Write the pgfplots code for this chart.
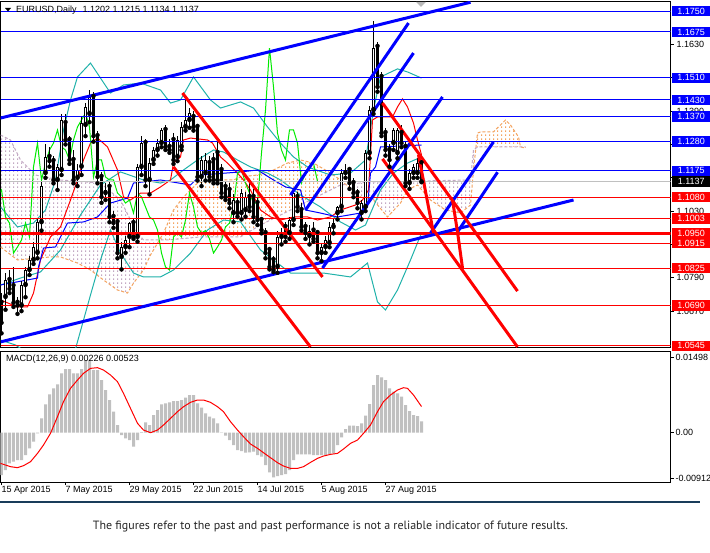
\documentclass[border=0pt]{standalone}
\usepackage{graphicx}
\usepackage{pgfplots}
\pgfplotsset{compat=1.18}
\usepackage{pgfplotstable}
\usetikzlibrary{patterns}
\usepackage{fontspec}
\setmainfont{Liberation Sans}
\newfontfamily\ptsans{PT Sans}
\definecolor{mtblue}{RGB}{0,0,255}
\definecolor{mtred}{RGB}{255,0,0}
\definecolor{bbcyan}{RGB}{32,178,170}
\definecolor{chik}{RGB}{0,235,0}
\definecolor{sanda}{RGB}{244,164,96}
\definecolor{thist}{RGB}{195,168,195}
\definecolor{silv}{RGB}{192,192,192}
\definecolor{darkbar}{RGB}{25,60,90}
\pgfdeclarepatternformonly{vdash}{\pgfqpoint{0pt}{0pt}}{\pgfqpoint{4pt}{4pt}}{\pgfqpoint{4pt}{4pt}}{%
  \pgfpathrectangle{\pgfqpoint{1.5pt}{0pt}}{\pgfqpoint{1pt}{2pt}}\pgfusepath{fill}}
\newcommand\lab{\fontsize{9}{10.5}\selectfont}

\pgfplotstableread{
i O H L C
0 1.0700 1.0735 1.0590 1.0628
1 1.0721 1.0808 1.0675 1.0782
2 1.0782 1.0818 1.0735 1.0750
3 1.0760 1.0829 1.0685 1.0700
4 1.0700 1.0720 1.0660 1.0690
5 1.0690 1.0780 1.0670 1.0764
6 1.0764 1.0830 1.0720 1.0818
7 1.0818 1.0870 1.0800 1.0854
8 1.0854 1.0920 1.0840 1.0900
9 1.0880 1.1000 1.0860 1.0990
10 1.0990 1.1140 1.0960 1.1120
11 1.1167 1.1270 1.1150 1.1225
12 1.1225 1.1260 1.1190 1.1210
13 1.1210 1.1230 1.1130 1.1142
14 1.1142 1.1200 1.1106 1.1189
15 1.1178 1.1380 1.1160 1.1358
16 1.1347 1.1380 1.1270 1.1286
17 1.1286 1.1300 1.1200 1.1214
18 1.1214 1.1250 1.1130 1.1142
19 1.1150 1.1200 1.1120 1.1178
20 1.1190 1.1370 1.1160 1.1347
21 1.1340 1.1420 1.1300 1.1405
22 1.1380 1.1466 1.1350 1.1441
23 1.1441 1.1460 1.1280 1.1300
24 1.1300 1.1320 1.1130 1.1153
25 1.1153 1.1170 1.1060 1.1081
26 1.1095 1.1130 1.1070 1.1106
27 1.1117 1.1140 1.0990 1.1009
28 1.1009 1.1030 1.0970 1.0987
29 1.0990 1.1000 1.0860 1.0879
30 1.0865 1.0920 1.0820 1.0901
31 1.0901 1.0940 1.0880 1.0926
32 1.0937 1.0990 1.0900 1.0987
33 1.0987 1.1000 1.0930 1.0937
34 1.0937 1.1200 1.0920 1.1189
35 1.1189 1.1300 1.1160 1.1275
36 1.1275 1.1290 1.1120 1.1142
37 1.1142 1.1220 1.1090 1.1203
38 1.1214 1.1260 1.1200 1.1250
39 1.1250 1.1290 1.1230 1.1275
40 1.1275 1.1330 1.1260 1.1322
41 1.1322 1.1340 1.1250 1.1261
42 1.1261 1.1290 1.1240 1.1250
43 1.1286 1.1310 1.1200 1.1214
44 1.1225 1.1300 1.1210 1.1286
45 1.1261 1.1350 1.1250 1.1333
46 1.1333 1.1430 1.1320 1.1358
47 1.1358 1.1400 1.1330 1.1383
48 1.1369 1.1390 1.1320 1.1333
49 1.1333 1.1340 1.1140 1.1153
50 1.1153 1.1230 1.1120 1.1214
51 1.1167 1.1240 1.1140 1.1214
52 1.1203 1.1230 1.1140 1.1153
53 1.1214 1.1240 1.1130 1.1142
54 1.1239 1.1280 1.1130 1.1142
55 1.1178 1.1200 1.1080 1.1095
56 1.1117 1.1140 1.1070 1.1081
57 1.1106 1.1130 1.1040 1.1059
58 1.1023 1.1090 1.0990 1.1070
59 1.1059 1.1080 1.1010 1.1023
60 1.1023 1.1110 1.1000 1.1095
61 1.1034 1.1100 1.1010 1.1081
62 1.1081 1.1130 1.1030 1.1045
63 1.1081 1.1110 1.0990 1.1009
64 1.1059 1.1080 1.0980 1.0998
65 1.0998 1.1010 1.0950 1.0962
66 1.0951 1.0970 1.0860 1.0879
67 1.0890 1.0900 1.0820 1.0829
68 1.0854 1.0870 1.0810 1.0818
69 1.0829 1.0960 1.0808 1.0937
70 1.0937 1.0970 1.0910 1.0951
71 1.0973 1.0990 1.0920 1.0937
72 1.0951 1.1010 1.0930 1.0998
73 1.0998 1.1110 1.0980 1.1095
74 1.1081 1.1100 1.1030 1.1045
75 1.1034 1.1060 1.0960 1.0973
76 1.0973 1.0990 1.0930 1.0951
77 1.0940 1.0980 1.0910 1.0960
78 1.0960 1.0990 1.0920 1.0930
79 1.0951 1.0960 1.0860 1.0879
80 1.0879 1.0910 1.0850 1.0901
81 1.0901 1.0940 1.0880 1.0926
82 1.0915 1.0990 1.0900 1.0973
83 1.0973 1.1000 1.0950 1.0987
84 1.1023 1.1050 1.1000 1.1045
85 1.1045 1.1180 1.1030 1.1167
86 1.1167 1.1200 1.1150 1.1178
87 1.1178 1.1190 1.1110 1.1131
88 1.1131 1.1150 1.1080 1.1095
89 1.1095 1.1110 1.1040 1.1059
90 1.1023 1.1070 1.1000 1.1059
91 1.1045 1.1250 1.1030 1.1239
92 1.1239 1.1410 1.1220 1.1394
93 1.1394 1.1715 1.1380 1.1617
94 1.1621 1.1640 1.1460 1.1477
95 1.1513 1.1530 1.1300 1.1311
96 1.1311 1.1330 1.1230 1.1250
97 1.1250 1.1270 1.1190 1.1214
98 1.1275 1.1330 1.1250 1.1322
99 1.1239 1.1330 1.1220 1.1322
100 1.1311 1.1340 1.1260 1.1275
101 1.1261 1.1280 1.1120 1.1131
102 1.1131 1.1180 1.1110 1.1167
103 1.1167 1.1200 1.1150 1.1189
104 1.1167 1.1220 1.1150 1.1203
105 1.1202 1.1215 1.1134 1.1137
}\candles

\pgfplotstableread{
i m
0 -0.00846
1 -0.00746
2 -0.00613
3 -0.00579
4 -0.00546
5 -0.00546
6 -0.00446
7 -0.00313
8 -0.00180
9 -0.00013
10 0.00286
11 0.00566
12 0.00766
13 0.00886
14 0.00966
15 0.01185
16 0.01272
17 0.01272
18 0.01185
19 0.01185
20 0.01272
21 0.01452
22 0.01452
23 0.01252
24 0.01252
25 0.01052
26 0.00852
27 0.00653
28 0.00420
29 0.00153
30 -0.00047
31 -0.00113
32 -0.00147
33 -0.00280
34 -0.00147
35 0.00010
36 0.00206
37 0.00153
38 0.00353
39 0.00453
40 0.00566
41 0.00586
42 0.00606
43 0.00633
44 0.00633
45 0.00653
46 0.00699
47 0.00753
48 0.00753
49 0.00586
50 0.00500
51 0.00386
52 0.00320
53 0.00286
54 0.00186
55 0.00007
56 -0.00060
57 -0.00147
58 -0.00246
59 -0.00346
60 -0.00366
61 -0.00400
62 -0.00393
63 -0.00380
64 -0.00446
65 -0.00480
66 -0.00646
67 -0.00793
68 -0.00892
69 -0.00866
70 -0.00846
71 -0.00826
72 -0.00746
73 -0.00546
74 -0.00433
75 -0.00433
76 -0.00433
77 -0.00433
78 -0.00446
79 -0.00446
80 -0.00446
81 -0.00446
82 -0.00433
83 -0.00413
84 -0.00246
85 -0.00093
86 0.00073
87 0.00140
88 0.00140
89 0.00133
90 0.00186
91 0.00340
92 0.00573
93 0.00952
94 0.01152
95 0.01106
96 0.01052
97 0.00886
98 0.00819
99 0.00786
100 0.00719
101 0.00553
102 0.00433
103 0.00353
104 0.00333
105 0.00226
}\macd

\begin{document}
\begin{tikzpicture}[x=1pt,y=1pt]
\useasboundingbox (0,0) rectangle (710,552);
\fill[white] (0,0) rectangle (710,552);

% ---------------- main price panel ----------------
\begin{axis}[
  at={(0.5pt,204pt)}, anchor=south west,
  width=670pt, height=346pt, scale only axis,
  xmin=0, xmax=670, ymin=1.05372, ymax=1.17828,
  axis line style={black, line width=1pt},
  xtick=\empty,
  scaled y ticks=false,
  ytick={1.067,1.079,1.091,1.103,1.115,1.127,1.139,1.151,1.163},
  yticklabels={1.0670,1.0790,,1.1030,,,1.1390,,1.1630},
  ytick pos=right, yticklabel pos=right,
  tick align=outside, major tick length=3pt,
  tick style={black, line width=0.8pt},
  yticklabel style={font=\lab, anchor=west, inner sep=0pt, xshift=3pt},
]
% Ichimoku cloud hatching (regions between Senkou A and Senkou B)
\addplot[draw=none, pattern=vdash, pattern color=thist] coordinates {
(0,1.0901) (17,1.0854) (50,1.0865) (60,1.0865) (77,1.0843) (90,1.0818) (103,1.0782) (117,1.0746) (127,1.0735) (133,1.0771) (143,1.0818) (150,1.0872) (158,1.0924)
(143,1.0926) (135,1.0962) (120,1.1070) (100,1.1131) (60,1.1142) (35,1.1160) (20,1.1214) (10,1.1286) (0,1.1304)};
\addplot[draw=none, pattern=vdash, pattern color=sanda] coordinates {
(158,1.0924) (163,1.0951) (173,1.1034) (183,1.1081) (197,1.1131) (213,1.1142) (233,1.1142) (240,1.1153) (257,1.1160) (273,1.1178) (287,1.1203) (300,1.1214) (313,1.1203) (330,1.1167) (340,1.1142) (345,1.1126)
(340,1.1124) (320,1.1088) (300,1.1052) (260,1.0980) (240,1.0937) (200,1.0937) (167,1.0926)};
\addplot[draw=none, pattern=vdash, pattern color=thist] coordinates {
(345,1.1126) (360,1.1081) (373,1.1070) (387,1.1009) (400,1.1059) (407,1.1106) (417,1.1124) (430,1.1070) (445,1.1034) (460,1.1023) (470,1.1052) (473,1.1178) (475,1.1250)
(473,1.1250) (470,1.1142) (370,1.1135)};
\addplot[draw=none, pattern=vdash, pattern color=sanda] coordinates {
(475,1.1250) (477,1.1311) (480,1.1315) (493,1.1315) (498,1.1333) (505,1.1358) (510,1.1340) (518,1.1297) (520,1.1261) (525,1.1257)
(525,1.1261) (477,1.1261)};
% Senkou A / B
\addplot[sanda, line width=1pt, dash pattern=on 3pt off 2pt] coordinates {
(0,1.0901) (17,1.0854) (50,1.0865) (60,1.0865) (77,1.0843) (90,1.0818) (103,1.0782) (117,1.0746) (127,1.0735) (133,1.0771) (143,1.0818) (150,1.0872) (163,1.0951) (173,1.1034) (183,1.1081) (197,1.1131) (213,1.1142) (233,1.1142) (240,1.1153) (257,1.1160) (273,1.1178) (287,1.1203) (300,1.1214) (313,1.1203) (330,1.1167) (340,1.1142) (360,1.1081) (373,1.1070) (387,1.1009) (400,1.1059) (407,1.1106) (417,1.1124) (430,1.1070) (445,1.1034) (460,1.1023) (470,1.1052) (473,1.1178) (477,1.1311) (480,1.1315) (493,1.1315) (498,1.1333) (505,1.1358) (510,1.1340) (518,1.1297) (520,1.1261) (525,1.1257)};
\addplot[thist, line width=1pt, dash pattern=on 3pt off 2pt] coordinates {
(0,1.1304) (10,1.1286) (20,1.1214) (35,1.1160) (60,1.1142) (100,1.1131) (120,1.1070) (135,1.0962) (143,1.0926) (167,1.0926) (200,1.0937) (240,1.0937) (260,1.0980) (300,1.1052) (320,1.1088) (340,1.1124) (370,1.1135) (470,1.1142) (473,1.1250) (477,1.1261) (525,1.1261)};

% Bollinger bands
\addplot[bbcyan, line width=1pt] coordinates {
(0,1.1045) (17,1.0973) (33,1.0987) (45,1.1034) (55,1.1142) (63,1.1322) (70,1.1430) (77,1.1513) (90,1.1563) (100,1.1509) (110,1.1455) (123,1.1484) (140,1.1491) (160,1.1466) (170,1.1419) (180,1.1430) (193,1.1513) (210,1.1430) (220,1.1401) (240,1.1423) (253,1.1401) (267,1.1333) (280,1.1275) (293,1.1225) (307,1.1189) (330,1.1160) (350,1.1167) (365,1.1214) (373,1.1394) (380,1.1513) (397,1.1542) (407,1.1531) (421,1.1509)};
\addplot[bbcyan, line width=1pt] coordinates {
(0,1.0764) (20,1.0789) (40,1.0811) (60,1.0890) (80,1.1016) (100,1.1124) (120,1.1171) (143,1.1142) (160,1.1131) (170,1.1142) (183,1.1178) (197,1.1214) (213,1.1250) (223,1.1243) (237,1.1214) (250,1.1189) (267,1.1167) (280,1.1142) (300,1.1088) (320,1.1045) (340,1.0991) (355,1.0962) (365,1.0980) (380,1.1106) (393,1.1167) (407,1.1203) (421,1.1225)};
\addplot[bbcyan, line width=1pt] coordinates {
(0,1.0566) (15,1.0548) (30,1.0512) (45,1.0458) (60,1.0458) (70,1.0512) (75,1.0534) (90,1.0728) (100,1.0854) (110,1.0962) (120,1.0879) (133,1.0807) (143,1.0793) (160,1.0793) (173,1.0818) (190,1.0879) (207,1.0962) (223,1.0998) (240,1.0991) (260,1.0890) (290,1.0807) (323,1.0807) (350,1.0793) (367,1.0843) (377,1.0703) (385,1.0674) (397,1.0746) (410,1.0854) (421,1.0951)};

% Tenkan / Kijun
\addplot[mtred, line width=1pt] coordinates {
(0,1.0710) (17,1.0685) (27,1.0685) (33,1.0735) (40,1.0854) (50,1.0937) (60,1.0973) (70,1.1070) (77,1.1142) (83,1.1214) (90,1.1275) (97,1.1293) (107,1.1261) (117,1.1178) (123,1.1081) (130,1.1070) (140,1.1095) (150,1.1095) (160,1.1117) (170,1.1142) (173,1.1203) (180,1.1225) (183,1.1286) (190,1.1293) (207,1.1286) (212,1.1275) (220,1.1225) (227,1.1203) (237,1.1167) (243,1.1142) (250,1.1106) (260,1.1034) (270,1.1009) (280,1.0998) (293,1.1009) (307,1.1009) (317,1.0998) (330,1.1009) (340,1.1034) (355,1.1052) (362,1.1070) (368,1.1106) (372,1.1358) (377,1.1369) (392,1.1369) (397,1.1405) (402,1.1434) (407,1.1405) (413,1.1347) (417,1.1286) (421,1.1232)};
\addplot[mtblue, line width=1pt] coordinates {
(0,1.0764) (37,1.0789) (38,1.0829) (43,1.0897) (55,1.0901) (60,1.0937) (67,1.0987) (83,1.0991) (97,1.1009) (110,1.1059) (127,1.1077) (133,1.1131) (160,1.1142) (190,1.1124) (200,1.1160) (240,1.1171) (257,1.1178) (273,1.1142) (285,1.1117) (300,1.1106) (305,1.1034) (320,1.1023) (337,1.1009) (360,1.1023) (367,1.1045) (370,1.1167) (375,1.1189) (380,1.1261) (421,1.1268)};
% Chikou span (closes shifted 26 bars back)
\addplot[chik, line width=1pt] table[x expr=4*\thisrow{i}-103, y=C] {\candles};

% Candles: wicks, bodies, hollow bullish bodies
\addplot[only marks, mark=none, error bars/.cd, y dir=plus, y explicit, error mark=none,
  error bar style={black, line width=1pt}]
  table[x expr=1+4*\thisrow{i}, y=L, y error plus expr={\thisrow{H}-\thisrow{L}}] {\candles};
\addplot[only marks, mark=none, error bars/.cd, y dir=plus, y explicit, error mark=none,
  error bar style={black, line width=3pt}]
  table[x expr=1+4*\thisrow{i}, y expr={min(\thisrow{O},\thisrow{C})},
        y error plus expr={max(abs(\thisrow{C}-\thisrow{O}),0.0003)}] {\candles};
\addplot[only marks, mark=none, error bars/.cd, y dir=plus, y explicit, error mark=none,
  error bar style={white, line width=1pt}]
  table[x expr=1+4*\thisrow{i}, y expr={\thisrow{O}+0.00036},
        y error plus expr={max(\thisrow{C}-\thisrow{O}-0.00072,0)}] {\candles};

% Horizontal levels
\addplot[mtblue, line width=1pt] coordinates {(0,1.1750) (670,1.1750)};
\addplot[mtblue, line width=1pt] coordinates {(0,1.1675) (670,1.1675)};
\addplot[mtblue, line width=1pt] coordinates {(0,1.1510) (670,1.1510)};
\addplot[mtblue, line width=1pt] coordinates {(0,1.1430) (670,1.1430)};
\addplot[mtblue, line width=1pt] coordinates {(0,1.1370) (670,1.1370)};
\addplot[mtblue, line width=1pt] coordinates {(0,1.1280) (670,1.1280)};
\addplot[mtblue, line width=1pt] coordinates {(0,1.1175) (670,1.1175)};
\addplot[silv, line width=1pt] coordinates {(0,1.1137) (670,1.1137)};
\addplot[mtred, line width=1pt] coordinates {(0,1.1080) (670,1.1080)};
\addplot[mtred, line width=1pt] coordinates {(0,1.1003) (670,1.1003)};
\addplot[mtred, line width=3pt] coordinates {(0,1.0950) (670,1.0950)};
\addplot[mtred, line width=1pt] coordinates {(0,1.0915) (670,1.0915)};
\addplot[mtred, line width=1pt] coordinates {(0,1.0825) (670,1.0825)};
\addplot[mtred, line width=1pt] coordinates {(0,1.0690) (670,1.0690)};
\addplot[mtred, line width=1pt] coordinates {(0,1.0545) (670,1.0545)};

% Trend lines
\addplot[mtblue, line width=3pt] coordinates {(0,1.1365) (470,1.1782)};
\addplot[mtblue, line width=3pt] coordinates {(0,1.0559) (573,1.1070)};
\addplot[mtblue, line width=3pt] coordinates {(290,1.1088) (408,1.1707)};
\addplot[mtblue, line width=3pt] coordinates {(305,1.1034) (413,1.1599)};
\addplot[mtblue, line width=3pt] coordinates {(322,1.0825) (442,1.1441)};
\addplot[mtblue, line width=3pt] coordinates {(430,1.0951) (493,1.1279)};
\addplot[mtblue, line width=3pt] coordinates {(457,1.0955) (497,1.1170)};
\addplot[mtred, line width=3pt] coordinates {(182,1.1455) (322,1.0793)};
\addplot[mtred, line width=3pt] coordinates {(173,1.1189) (310,1.0541)};
\addplot[mtred, line width=3pt] coordinates {(382,1.1419) (517,1.0742)};
\addplot[mtred, line width=3pt] coordinates {(382,1.1218) (517,1.0541)};
\addplot[mtred, line width=3pt] coordinates {(418,1.1232) (433,1.0951)};
\addplot[mtred, line width=3pt] coordinates {(452,1.1070) (457,1.0955) (462,1.0825)};

\coordinate (L1) at (axis cs:670,1.1750);
\coordinate (L2) at (axis cs:670,1.1675);
\coordinate (L3) at (axis cs:670,1.1510);
\coordinate (L4) at (axis cs:670,1.1430);
\coordinate (L5) at (axis cs:670,1.1370);
\coordinate (L6) at (axis cs:670,1.1280);
\coordinate (L7) at (axis cs:670,1.1175);
\coordinate (L8) at (axis cs:670,1.1137);
\coordinate (L9) at (axis cs:670,1.1080);
\coordinate (L10) at (axis cs:670,1.1003);
\coordinate (L11) at (axis cs:670,1.0950);
\coordinate (L12) at (axis cs:670,1.0915);
\coordinate (L13) at (axis cs:670,1.0825);
\coordinate (L14) at (axis cs:670,1.0690);
\coordinate (L15) at (axis cs:670,1.0545);
\end{axis}

% ---------------- MACD panel ----------------
\begin{axis}[
  at={(0.5pt,70pt)}, anchor=south west,
  width=670pt, height=131pt, scale only axis,
  xmin=0, xmax=670, ymin=-0.00985, ymax=0.01632,
  axis line style={black, line width=1pt},
  scaled y ticks=false,
  xtick={1,65,129,193,257,321,385},
  xticklabels={15 Apr 2015,7 May 2015,29 May 2015,22 Jun 2015,14 Jul 2015,5 Aug 2015,27 Aug 2015},
  xtick pos=left,
  ytick={-0.00912,0,0.01498},
  yticklabels={-0.00912,0.00,0.01498},
  ytick pos=right, yticklabel pos=right,
  tick align=outside, major tick length=3pt,
  tick style={black, line width=0.8pt},
  xticklabel style={font=\lab, anchor=north west, inner sep=0pt, xshift=0pt, yshift=-1pt},
  yticklabel style={font=\lab, anchor=west, inner sep=0pt, xshift=2pt},
]
\addplot[ybar, bar width=3pt, fill=silv, draw=none] table[x expr=1+4*\thisrow{i}, y=m] {\macd};
\addplot[mtred, line width=1pt] coordinates {
(0,-0.00613) (5,-0.00646) (10,-0.00679) (17,-0.00699) (23,-0.00659) (30,-0.00580) (37,-0.00413) (43,-0.00246) (50,-0.00013) (57,0.00320) (63,0.00620) (70,0.00886) (77,0.01052) (83,0.01186) (90,0.01285) (97,0.01299) (103,0.01252) (110,0.01152) (117,0.01019) (123,0.00786) (130,0.00486) (137,0.00187) (143,0.00053) (150,0.00000) (157,0.00053) (163,0.00153) (170,0.00286) (177,0.00420) (183,0.00519) (190,0.00606) (197,0.00653) (203,0.00653) (210,0.00606) (217,0.00519) (223,0.00420) (230,0.00220) (237,0.00053) (243,-0.00080) (250,-0.00226) (257,-0.00313) (263,-0.00400) (270,-0.00500) (277,-0.00599) (283,-0.00666) (290,-0.00713) (297,-0.00713) (303,-0.00679) (310,-0.00593) (317,-0.00513) (323,-0.00466) (330,-0.00433) (337,-0.00413) (343,-0.00326) (350,-0.00213) (357,-0.00147) (363,-0.00013) (370,0.00153) (377,0.00420) (383,0.00620) (390,0.00753) (397,0.00853) (403,0.00899) (407,0.00886) (413,0.00753) (421,0.00523)};
\end{axis}

% ---------------- price label boxes ----------------
\foreach \n/\v/\c in {L1/1.1750/mtblue,L2/1.1675/mtblue,L3/1.1510/mtblue,L4/1.1430/mtblue,L5/1.1370/mtblue,L6/1.1280/mtblue,L7/1.1175/mtblue,L8/1.1137/black,L9/1.1080/mtred,L10/1.1003/mtred,L11/1.0950/mtred,L12/1.0915/mtred,L13/1.0825/mtred,L14/1.0690/mtred,L15/1.0545/mtred}{
  \node[fill=\c, text=white, font=\lab, inner sep=0pt, minimum width=38pt, minimum height=10.5pt, anchor=west] at ([xshift=1.5pt]\n) {\v};
}

% titles
\fill[black] (5,544) -- (11,544) -- (8,540.5) -- cycle;
\node[anchor=base west, inner sep=0pt, font=\lab] at (16,539.5) {EURUSD,Daily\hspace{6pt}1.1202 1.1215 1.1134 1.1137};
\fill[gray!55] (416,550) -- (426,550) -- (421,545) -- cycle;
\node[anchor=base west, inner sep=0pt, font=\lab] at (6,190) {MACD(12,26,9) 0.00226 0.00523};

% bottom bar and footer
\fill[darkbar] (0,48.5) rectangle (700,50.5);
\node[inner sep=0pt, text=black!85] at (330.5,25) {\resizebox{475pt}{!}{\ptsans\fontsize{10}{12}\selectfont The figures refer to the past and past performance is not a reliable indicator of future results.}};
\end{tikzpicture}
\end{document}
